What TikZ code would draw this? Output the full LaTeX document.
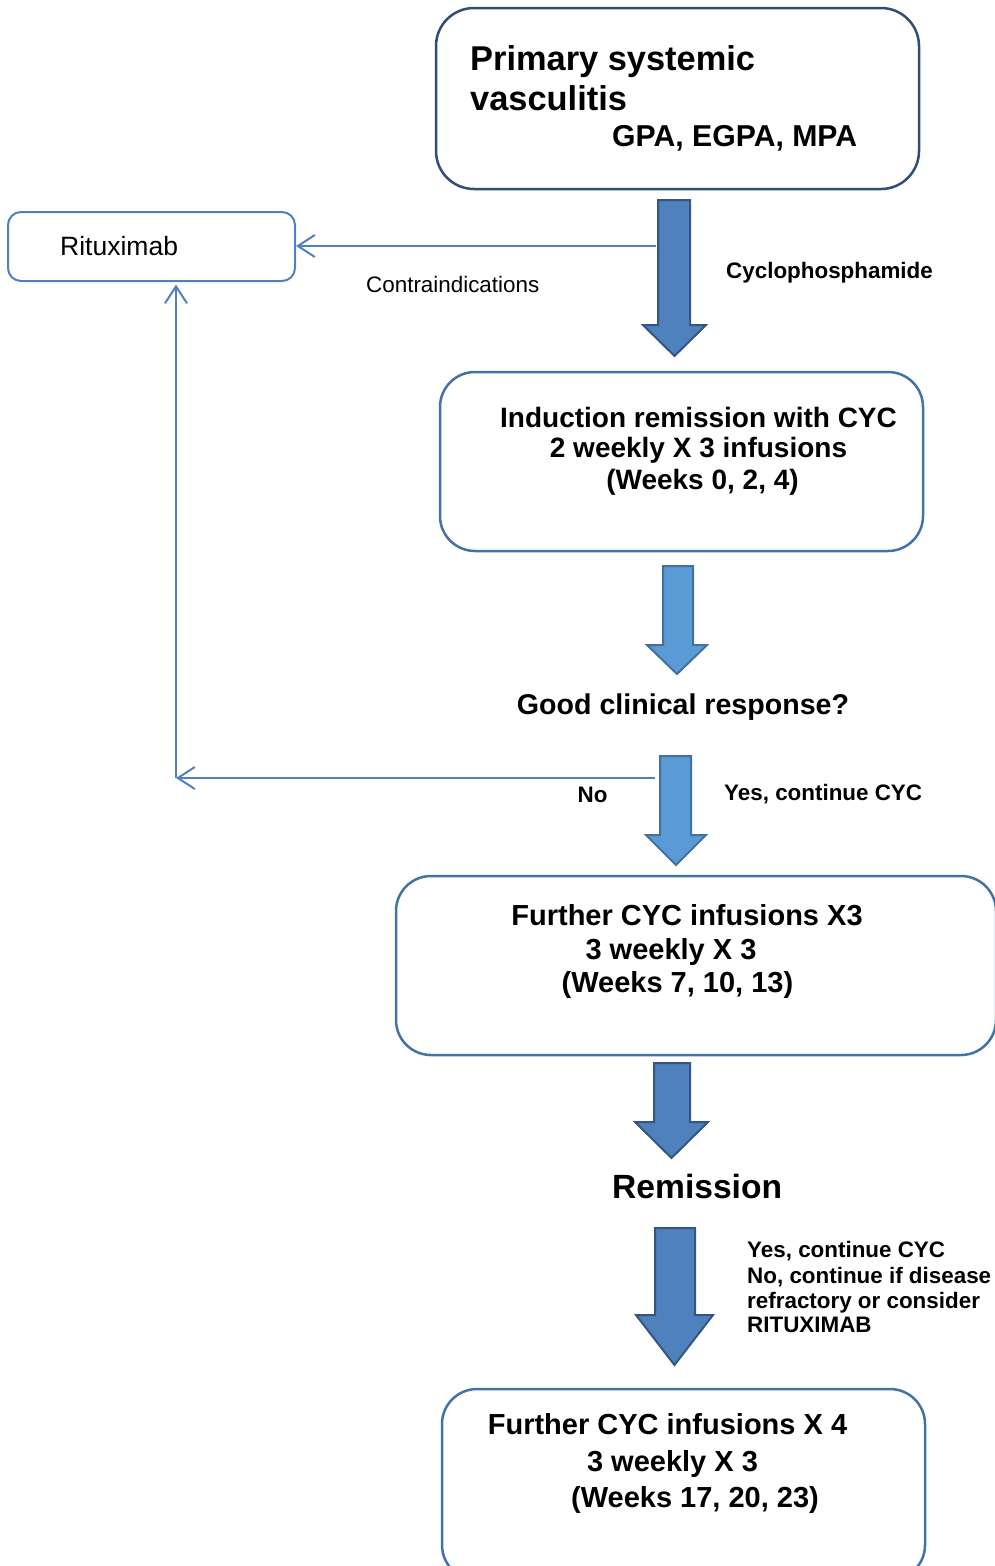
\documentclass[tikz,border=0pt]{standalone}
\usepackage{fontspec}
\setmainfont{Liberation Sans}
\usetikzlibrary{arrows.meta}
\definecolor{boxdark}{RGB}{47,77,117}
\definecolor{boxmid}{RGB}{66,114,166}
\definecolor{linkblue}{RGB}{79,129,189}
\definecolor{arrdarkfill}{RGB}{79,129,189}
\definecolor{arrdarkdraw}{RGB}{52,86,130}
\definecolor{arrlightfill}{RGB}{91,155,213}
\definecolor{arrlightdraw}{RGB}{65,113,156}
\newcommand{\dnarrow}[8]{%
  \draw[#1] (#2,#4) -- (#3,#4) -- (#3,#5) -- (#7,#5) -- ({(#6+#7)/2},#8) -- (#6,#5) -- (#2,#5) -- cycle;}
\begin{document}
\begin{tikzpicture}[x=1pt,y=-1pt,
  bigbox/.style={draw=boxmid, line width=2.5pt, rectangle, rounded corners=35pt, inner sep=0pt},
  topbox/.style={draw=boxdark, line width=2.5pt, rectangle, rounded corners=38pt, inner sep=0pt},
  rtxbox/.style={draw=linkblue, line width=2pt, rectangle, rounded corners=13pt, inner sep=0pt},
  conn/.style={draw=linkblue, line width=2pt, -{Straight Barb[length=17pt,width=22pt,line width=2pt]}},
  darkarrow/.style={fill=arrdarkfill, draw=arrdarkdraw, line width=2pt, line join=miter},
  lightarrow/.style={fill=arrlightfill, draw=arrlightdraw, line width=2pt, line join=miter},
  txt/.style={inner sep=0pt, text=black},
  ftitle/.style={txt, font=\fontsize{34.4}{40}\selectfont\bfseries},
  fbox/.style={txt, font=\fontsize{29}{34}\selectfont\bfseries},
  fboxb/.style={txt, font=\fontsize{28}{33}\selectfont\bfseries},
  flabel/.style={txt, font=\fontsize{22.4}{26}\selectfont\bfseries},
  fplain/.style={txt, font=\fontsize{22.4}{26}\selectfont},
]
\useasboundingbox (0,0) rectangle (995,1566);
\clip (0,0) rectangle (995,1566);

% boxes
\node[topbox, minimum width=483pt, minimum height=181pt] (pv) at (677.5,98.5) {};
\node[rtxbox, minimum width=287pt, minimum height=69pt] (rtx) at (151.5,246.5) {};
\node[bigbox, minimum width=483pt, minimum height=179pt] (ind) at (681.5,461.5) {};
\node[bigbox, minimum width=600pt, minimum height=179pt] (fur3) at (696,965.5) {};
\node[bigbox, minimum width=483pt, minimum height=191pt] (fur4) at (683.5,1484.5) {};

% box texts
\node[ftitle, anchor=base west] (pv1) at (470,70) {Primary systemic};
\node[ftitle, anchor=base west] (pv2) at (470,110) {vasculitis};
\node[txt, font=\fontsize{30.2}{35}\selectfont\bfseries, anchor=base west] (pv3) at (612,146) {GPA, EGPA, MPA};

\node[txt, font=\fontsize{26.5}{30}\selectfont, anchor=base west] (rtxt) at (60,255) {Rituximab};

\node[fboxb, anchor=base] (ind1) at (698.5,427) {Induction remission with CYC};
\node[fboxb, anchor=base] (ind2) at (698.5,457.5) {2 weekly X 3 infusions};
\node[fboxb, anchor=base] (ind3) at (702.5,489) {(Weeks 0, 2, 4)};

\node[fbox, anchor=base] (f31) at (687,925) {Further CYC infusions X3};
\node[fbox, anchor=base] (f32) at (671,959) {3 weekly X 3};
\node[fbox, anchor=base] (f33) at (677.5,992) {(Weeks 7, 10, 13)};

\node[fbox, anchor=base] (f41) at (667.5,1434) {Further CYC infusions X 4};
\node[fbox, anchor=base] (f42) at (672.5,1471) {3 weekly X 3};
\node[fbox, anchor=base] (f43) at (695,1507) {(Weeks 17, 20, 23)};

% free texts
\node[txt, font=\fontsize{28.6}{33}\selectfont\bfseries, anchor=base] (gcr) at (683,714) {Good clinical response?};
\node[txt, font=\fontsize{33.6}{38}\selectfont\bfseries, anchor=base west] (rem) at (612,1198) {Remission};

% block arrows
\dnarrow{darkarrow}{658}{690}{200}{325}{643}{706}{356}
\dnarrow{lightarrow}{663}{693}{566}{645}{647}{707}{674}
\dnarrow{lightarrow}{660}{691}{756}{835}{646}{706}{865}
\dnarrow{darkarrow}{654}{690}{1063}{1122}{635}{708}{1158}
\dnarrow{darkarrow}{655}{695}{1228}{1315}{636}{713}{1365}

% labels
\node[fplain, anchor=base west] (lci) at (366,292) {Contraindications};
\node[flabel, anchor=base west] (lcyc) at (726,278) {Cyclophosphamide};
\node[flabel, anchor=base west] (lno) at (577.5,802) {No};
\node[flabel, anchor=base west] (lyes) at (724,800) {Yes, continue CYC};
\node[flabel, anchor=base west] (lr1) at (747,1257) {Yes, continue CYC};
\node[flabel, anchor=base west] (lr2) at (747,1283) {No, continue if disease};
\node[flabel, anchor=base west] (lr3) at (747,1308.5) {refractory or consider};
\node[flabel, anchor=base west] (lr4) at (747,1332) {RITUXIMAB};

% connectors
\coordinate (cstart) at (656,246);
\draw[conn] (cstart) -- (rtx.east |- cstart);
\coordinate (nostart) at (655,778);
\coordinate (nocorner) at (176,778);
\draw[conn] (nostart) -- (nocorner);
\draw[conn, shorten >=2.5pt] (nocorner) -- (rtx.south -| nocorner);
\end{tikzpicture}
\end{document}
